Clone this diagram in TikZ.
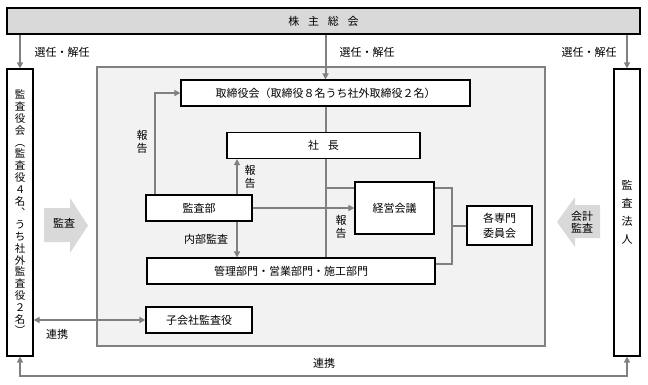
\documentclass[tikz,border=0pt]{standalone}
\usepackage{fontspec}
\setmainfont{Noto Sans CJK JP}
\usepackage{xcolor}
\usepackage{tikz}
\usetikzlibrary{arrows.meta,calc,positioning}
\definecolor{lnc}{RGB}{128,128,128}
\definecolor{hdc}{RGB}{217,217,217}
\definecolor{bgc}{RGB}{242,242,242}

\begin{document}
\begin{tikzpicture}[x=1pt,y=-1pt,
  box/.style={draw,line width=1.2pt,fill=white,inner sep=0pt,font=\fontsize{11}{13}\selectfont},
  area/.style={draw=lnc,line width=2pt,fill=bgc,inner sep=0pt},
  link/.style={draw=lnc,line width=2pt},
  tip/.style={-{Triangle[length=6pt,width=6pt]}},
  tips/.style={{Triangle[length=6pt,width=6pt]}-{Triangle[length=6pt,width=6pt]}},
  lbl/.style={inner sep=0pt,font=\fontsize{11}{13}\selectfont},
  tate/.style={lbl,align=center}]
  \useasboundingbox (0,0) rectangle (648,384);
  % company area
  \node[area,minimum width=448pt,minimum height=279pt] (corp) at (321,206.5) {};
  % block arrows
  \fill[hdc] (44,208) -- (70,208) -- (70,198) -- (88,225.5) -- (70,253) -- (70,242) -- (44,242) -- cycle;
  \fill[hdc] (600,205) -- (575,205) -- (575,197) -- (557,222) -- (575,247) -- (575,238) -- (600,238) -- cycle;
  \node[lbl] (kansa) at (64,223) {監査};
  \node[tate,font=\fontsize{11}{12.5}\selectfont] (kaikei) at (582,222) {会計\\監査};
  % boxes
  \node[box,fill=hdc,minimum width=633pt,minimum height=26pt] (soukai) at (323.5,21) {株\hspace{.8em}主\hspace{.8em}総\hspace{.8em}会};
  \node[box,minimum width=26pt,minimum height=287pt,align=center,font=\fontsize{10.5}{11.8}\selectfont] (kansayaku) at (20,212.5)
    {監\\査\\役\\会\\︵\\監\\査\\役\\４\\名\\︑\\う\\ち\\社\\外\\監\\査\\役\\２\\名\\︶};
  \node[box,minimum width=26pt,minimum height=287pt,align=center,font=\fontsize{11}{18}\selectfont] (houjin) at (627,212.5)
    {監\\査\\法\\人};
  \node[box,minimum width=289pt,minimum height=26pt] (torishimari) at (325.5,93) {取締役会（取締役８名うち社外取締役２名）};
  \node[box,minimum width=193pt,minimum height=26pt] (shacho) at (323.5,145.5) {社\hspace{.8em}長};
  \node[box,minimum width=106pt,minimum height=26pt] (kansabu) at (199,208) {監査部};
  \node[box,minimum width=79pt,minimum height=52pt] (keiei) at (394.5,208) {経営会議};
  \node[box,minimum width=65pt,minimum height=39pt,align=center,font=\fontsize{11}{15}\selectfont] (senmon) at (499.5,225.5) {各専門\\委員会};
  \node[box,minimum width=288pt,minimum height=26pt] (bumon) at (291,271) {管理部門・営業部門・施工部門};
  \node[box,minimum width=106pt,minimum height=26pt] (kogaisha) at (199,320) {子会社監査役};
  % helper points
  \coordinate (ax) at (155,0);
  \coordinate (kx) at (237,0);
  \coordinate (ky) at (0,188);
  \coordinate (r1) at (452,188);
  \coordinate (r2) at (452,264);
  \coordinate (bot) at (0,376);
  % connectors
  \draw[link,tip] (soukai.south -| kansayaku) -- (kansayaku.north);
  \draw[link,tip] (soukai.south -| torishimari) -- (torishimari.north);
  \draw[link,tip] (soukai.south -| houjin) -- (houjin.north);
  \draw[link] (torishimari.south) -- (torishimari.south |- shacho.north);
  \draw[link] (torishimari.south |- shacho.south) -- (torishimari.south |- bumon.north);
  \draw[link] (torishimari.south |- ky) -- (keiei.west |- ky);
  \draw[link,tip] (kansabu.east) -- (keiei.west |- kansabu.east);
  \draw[link,tip] (kansabu.north -| ax) |- (torishimari.west);
  \draw[link,tip] (kansabu.north -| kx) -- (shacho.south -| kx);
  \draw[link,tip] (kansabu.south -| kx) -- (bumon.north -| kx);
  \draw[link] (keiei.east |- r1) -- (r1) -- (r2) -- (bumon.east |- r2);
  \draw[link] (r1 |- senmon.west) -- (senmon.west);
  \draw[link,tips] (kansayaku.east |- kogaisha.west) -- (kogaisha.west);
  \draw[link,tips] (kansayaku.south) -- (kansayaku.south |- bot) -- (houjin.south |- bot) -- (houjin.south);
  % labels
  \node[lbl] (sen1) at (62,52) {選任・解任};
  \node[lbl] (sen2) at (367,52) {選任・解任};
  \node[lbl] (sen3) at (589,52) {選任・解任};
  \node[tate] (hou1) at (142,142) {報\\告};
  \node[tate] (hou2) at (250,177) {報\\告};
  \node[tate] (hou3) at (341,227) {報\\告};
  \node[lbl] (naibu) at (206,239) {内部監査};
  \node[lbl] (ren1) at (57,334) {連携};
  \node[lbl] (ren2) at (324,363) {連携};
\end{tikzpicture}
\end{document}
